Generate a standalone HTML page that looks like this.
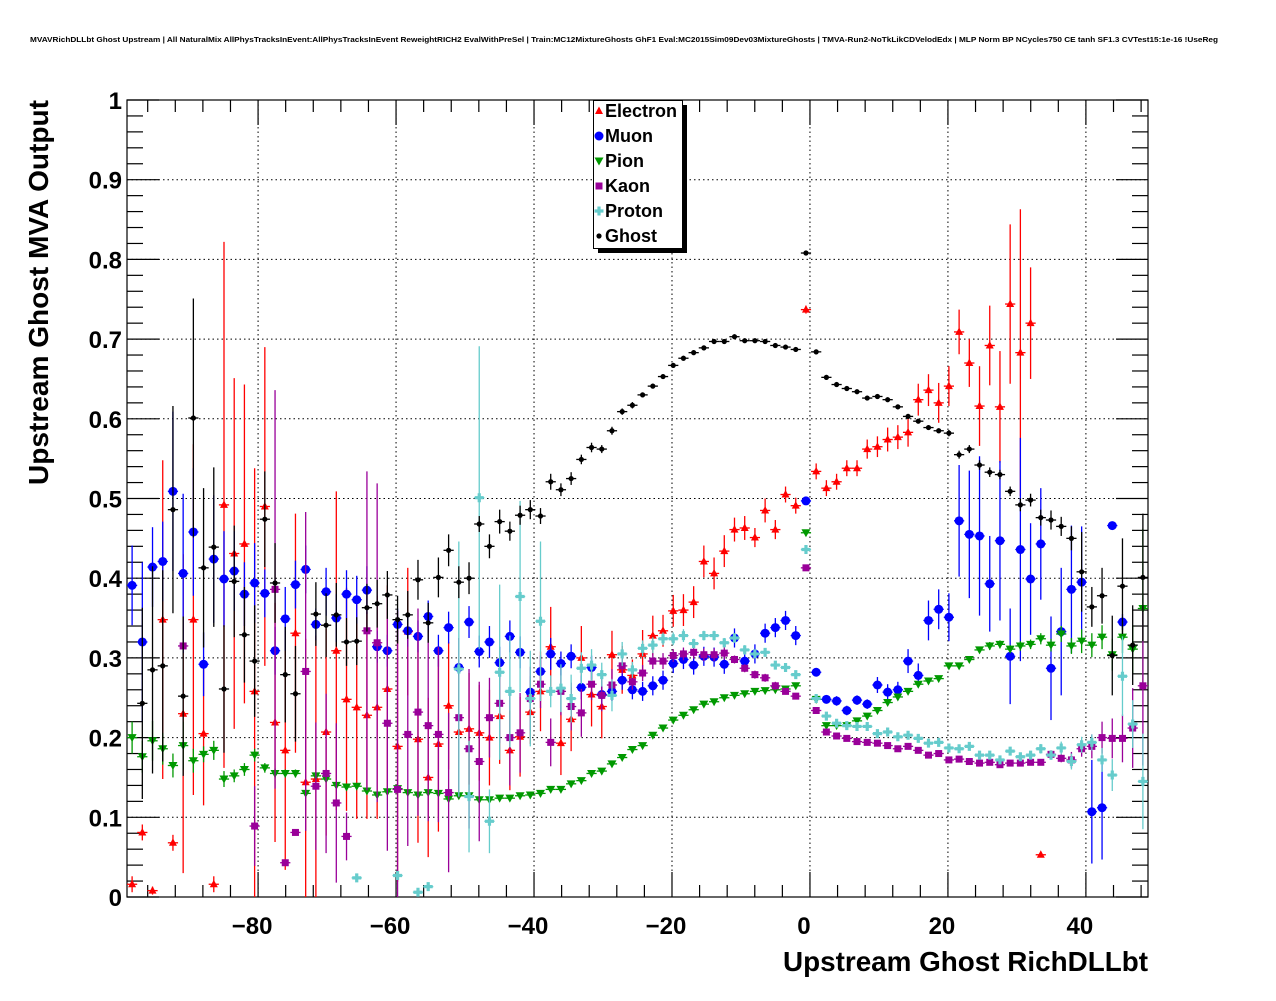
<!DOCTYPE html>
<html><head><meta charset="utf-8"><style>
html,body{margin:0;padding:0;background:#fff;}
svg text{font-family:"Liberation Sans",sans-serif;font-weight:bold;}
</style></head><body>
<svg id="chart" width="1276" height="996" xmlns="http://www.w3.org/2000/svg">
<rect x="0" y="0" width="1276" height="996" fill="#fff"/>
<text x="624" y="42" font-size="7.6" text-anchor="middle" textLength="1188" lengthAdjust="spacingAndGlyphs">MVAVRichDLLbt Ghost Upstream | All NaturalMix AllPhysTracksInEvent:AllPhysTracksInEvent ReweightRICH2 EvalWithPreSel | Train:MC12MixtureGhosts GhF1 Eval:MC2015Sim09Dev03MixtureGhosts | TMVA-Run2-NoTkLikCDVelodEdx | MLP Norm BP NCycles750 CE tanh SF1.3 CVTest15:1e-16 !UseReg</text>
<g id="grid"></g>
<g id="axes"></g>
<g id="marks"></g>
<text x="1148" y="971" font-size="28" text-anchor="end" textLength="365" lengthAdjust="spacingAndGlyphs">Upstream Ghost RichDLLbt</text>
<text transform="translate(48,100) rotate(-90)" font-size="28" text-anchor="end" textLength="385" lengthAdjust="spacingAndGlyphs">Upstream Ghost MVA Output</text>
<g>
<rect x="598" y="105" width="89" height="148" fill="#000"/>
<rect x="593.5" y="100.5" width="89" height="148" fill="#fff" stroke="#000"/>
<g id="legend-items"></g>
</g>
</svg>
<script>
const NB = 100, XMIN = -99, XMAX = 49;
const seriesNames = ["Electron","Muon","Pion","Kaon","Proton","Ghost"];
const seriesColors = ["#ff0000","#0000ff","#009900","#990099","#66cccc","#000000"];
const n = null;
const electron = [0.016,0.081,0.008,0.348,0.068,0.230,0.348,0.205,0.016,0.492,0.431,0.443,0.258,0.490,0.219,0.184,0.331,0.144,0.148,0.207,0.309,0.248,0.238,0.228,0.238,0.261,0.189,0.333,0.198,0.150,0.192,0.240,0.207,0.211,0.206,0.200,0.227,0.184,0.201,0.232,0.258,0.314,0.193,0.223,0.300,0.254,0.239,0.304,0.285,0.278,0.305,0.328,0.334,0.359,0.360,0.370,0.421,0.406,0.434,0.461,0.463,0.451,0.485,0.461,0.505,0.491,0.737,0.534,0.513,0.521,0.538,0.538,0.562,0.565,0.574,0.577,0.583,0.624,0.636,0.620,0.641,0.709,0.670,0.616,0.692,0.615,0.744,0.683,0.720,0.053,n,n,n,n,n,n,n,n,n,n];
const electronErr = [0.01,0.01,0.005,0.2,0.01,0.2,0.22,0.09,0.01,0.33,0.22,0.2,0.28,0.2,0.15,0.15,0.15,0.18,0.18,0.13,0.2,0.14,0.14,0.13,0.14,0.13,0.17,0.08,0.13,0.1,0.11,0.08,0.08,0.07,0.06,0.06,0.06,0.05,0.05,0.04,0.05,0.05,0.04,0.04,0.04,0.04,0.04,0.03,0.03,0.02,0.03,0.025,0.02,0.02,0.02,0.02,0.02,0.02,0.02,0.015,0.015,0.012,0.015,0.012,0.01,0.01,0.005,0.01,0.01,0.01,0.01,0.01,0.012,0.013,0.015,0.015,0.018,0.02,0.02,0.025,0.025,0.028,0.03,0.05,0.05,0.07,0.1,0.18,0.07,0.002,n,n,n,n,n,n,n,n,n,n];
const muon = [0.391,0.320,0.414,0.421,0.509,0.406,0.458,0.292,0.424,0.399,0.409,0.380,0.394,0.381,0.309,0.349,0.392,0.411,0.342,0.383,0.350,0.380,0.373,0.385,0.314,0.309,0.342,0.334,0.327,0.352,0.309,0.338,0.288,0.345,0.308,0.320,0.294,0.327,0.307,0.257,0.283,0.305,0.293,0.302,0.263,0.288,0.254,0.258,0.272,0.260,0.258,0.265,0.272,0.293,0.298,0.291,0.302,0.301,0.292,0.325,0.296,0.305,0.331,0.338,0.347,0.328,0.497,0.282,0.248,0.246,0.234,0.247,0.242,0.266,0.257,0.260,0.296,0.278,0.347,0.361,0.351,0.472,0.455,0.453,0.393,0.447,0.302,0.436,0.399,0.443,0.287,0.333,0.386,0.395,0.107,0.112,0.466,0.345,n,n];
const muonErr = [0.05,0.1,0.05,0.05,0.1,0.1,0.08,0.04,0.08,0.06,0.05,0.04,0.05,0.03,0.03,0.04,0.03,0.03,0.02,0.03,0.03,0.03,0.03,0.03,0.02,0.02,0.02,0.02,0.02,0.02,0.02,0.02,0.01,0.02,0.02,0.02,0.02,0.02,0.02,0.02,0.02,0.02,0.015,0.015,0.015,0.015,0.012,0.012,0.012,0.012,0.012,0.012,0.012,0.012,0.012,0.012,0.012,0.012,0.012,0.012,0.01,0.012,0.012,0.012,0.012,0.012,0.002,0.005,0.005,0.006,0.006,0.006,0.006,0.01,0.01,0.01,0.015,0.015,0.025,0.025,0.03,0.07,0.08,0.1,0.06,0.1,0.06,0.14,0.07,0.07,0.065,0.08,0.08,0.07,0.065,0.065,0.005,0.01,n,n];
const pion = [0.200,0.176,0.196,0.186,0.165,0.190,0.171,0.179,0.184,0.148,0.152,0.160,0.178,0.162,0.155,0.155,0.155,0.130,0.152,0.148,0.140,0.138,0.139,0.133,0.128,0.132,0.136,0.131,0.128,0.131,0.130,0.123,0.127,0.127,0.122,0.122,0.124,0.124,0.127,0.128,0.130,0.135,0.135,0.142,0.146,0.155,0.158,0.167,0.175,0.185,0.190,0.203,0.212,0.222,0.228,0.235,0.242,0.245,0.250,0.253,0.255,0.258,0.259,0.260,0.261,0.265,0.457,0.248,0.215,0.215,0.215,0.221,0.227,0.234,0.244,0.251,0.258,0.267,0.271,0.274,0.290,0.290,0.298,0.310,0.315,0.317,0.311,0.315,0.317,0.324,0.316,0.330,0.315,0.321,0.316,0.326,0.304,0.326,0.311,0.362];
const pionErr = [0.02,0.02,0.025,0.02,0.015,0.03,0.015,0.01,0.012,0.01,0.008,0.008,0.008,0.006,0.006,0.005,0.005,0.006,0.005,0.004,0.004,0.004,0.004,0.003,0.003,0.003,0.003,0.003,0.003,0.003,0.003,0.003,0.003,0.003,0.003,0.003,0.003,0.003,0.003,0.003,0.003,0.003,0.003,0.003,0.003,0.003,0.003,0.003,0.003,0.003,0.003,0.003,0.003,0.003,0.003,0.003,0.003,0.003,0.003,0.003,0.003,0.003,0.003,0.003,0.003,0.003,0.003,0.003,0.003,0.003,0.003,0.003,0.003,0.003,0.003,0.003,0.003,0.003,0.003,0.003,0.003,0.003,0.003,0.003,0.005,0.005,0.005,0.006,0.006,0.007,0.008,0.01,0.01,0.015,0.015,0.015,0.02,0.02,0.03,0.1];
const kaon = [n,n,n,n,n,0.315,n,n,n,n,n,n,0.089,n,0.386,0.043,0.081,0.283,0.139,0.155,0.118,0.076,n,0.334,0.319,0.218,0.135,0.204,0.232,0.215,0.204,0.131,0.225,0.186,0.170,0.225,0.243,0.200,0.206,0.249,0.267,0.194,0.258,0.239,0.231,0.267,0.253,0.266,0.290,0.270,0.281,0.296,0.296,0.303,0.305,0.307,0.304,0.304,0.306,0.298,0.287,0.279,0.275,0.265,0.258,0.252,0.413,0.234,0.207,0.202,0.199,0.195,0.194,0.193,0.190,0.186,0.189,0.184,0.178,0.180,0.172,0.173,0.170,0.168,0.169,0.166,0.168,0.168,0.169,0.169,0.179,0.174,0.172,0.186,0.189,0.200,0.199,0.199,0.212,0.265];
const kaonErr = [n,n,n,n,n,0.003,n,n,n,n,n,n,0.05,n,0.25,0.003,0.003,0.2,0.08,0.1,0.1,0.03,n,0.2,0.2,0.16,0.2,0.14,0.13,0.12,0.11,0.1,0.1,0.1,0.1,0.05,0.05,0.06,0.05,0.04,0.03,0.03,0.03,0.03,0.03,0.02,0.02,0.02,0.01,0.01,0.01,0.01,0.01,0.008,0.008,0.008,0.008,0.008,0.008,0.005,0.005,0.005,0.005,0.005,0.004,0.004,0.003,0.003,0.003,0.003,0.003,0.003,0.003,0.003,0.003,0.003,0.003,0.003,0.003,0.003,0.003,0.003,0.003,0.003,0.003,0.003,0.003,0.003,0.003,0.003,0.005,0.005,0.01,0.01,0.015,0.02,0.025,0.03,0.05,0.1];
const proton = [n,n,n,n,n,n,n,n,n,n,n,n,n,n,n,n,n,n,n,n,n,n,0.024,n,n,n,0.027,n,0.006,0.013,n,n,0.286,0.126,0.501,0.095,0.282,0.258,0.377,0.249,0.346,0.258,0.262,0.249,0.287,0.291,0.279,0.253,0.305,0.285,0.312,0.316,0.324,0.324,0.328,0.318,0.328,0.328,0.319,0.325,0.310,0.305,0.307,0.291,0.288,0.279,0.436,0.249,0.227,0.218,0.215,0.214,0.214,0.205,0.207,0.201,0.203,0.199,0.193,0.194,0.187,0.186,0.189,0.178,0.178,0.172,0.183,0.176,0.178,0.186,0.178,0.187,0.170,0.191,0.194,0.172,0.153,0.277,0.217,0.145];
const protonErr = [n,n,n,n,n,n,n,n,n,n,n,n,n,n,n,n,n,n,n,n,n,n,0.003,n,n,n,0.005,n,0.003,0.003,n,n,0.16,0.07,0.19,0.04,0.11,0.07,0.12,0.06,0.1,0.02,0.03,0.03,0.02,0.02,0.015,0.02,0.015,0.01,0.01,0.01,0.008,0.008,0.008,0.006,0.006,0.006,0.006,0.006,0.006,0.005,0.005,0.005,0.004,0.004,0.003,0.004,0.004,0.004,0.004,0.004,0.004,0.004,0.004,0.004,0.004,0.004,0.004,0.004,0.004,0.004,0.004,0.004,0.004,0.004,0.005,0.005,0.005,0.006,0.006,0.008,0.01,0.01,0.01,0.015,0.02,0.05,0.03,0.06];
const ghost = [n,0.243,0.285,0.290,0.486,0.252,0.601,0.413,0.439,0.261,0.396,0.329,0.296,0.474,0.394,0.279,0.255,n,0.355,0.341,0.354,0.320,0.321,0.363,0.368,0.379,0.348,0.354,0.398,0.344,0.401,0.435,0.395,0.400,0.468,0.440,0.471,0.459,0.479,0.486,0.478,0.521,0.511,0.525,0.549,0.564,0.562,0.585,0.609,0.617,0.630,0.641,0.653,0.667,0.676,0.683,0.689,0.697,0.697,0.703,0.698,0.698,0.697,0.692,0.690,0.687,0.808,0.684,0.652,0.643,0.638,0.634,0.626,0.628,0.624,0.615,0.603,0.597,0.589,0.585,0.582,0.555,0.562,0.542,0.533,0.530,0.509,0.492,0.498,0.476,0.473,0.465,0.450,0.408,0.364,0.378,0.303,0.390,0.316,0.401];
const ghostErr = [n,0.12,0.13,0.12,0.13,0.1,0.15,0.1,0.1,0.08,0.07,0.06,0.07,0.06,0.05,0.06,0.06,n,0.04,0.04,0.04,0.03,0.03,0.03,0.03,0.03,0.03,0.03,0.025,0.025,0.025,0.02,0.02,0.02,0.01,0.015,0.015,0.012,0.012,0.012,0.01,0.01,0.008,0.008,0.006,0.006,0.005,0.005,0.004,0.004,0.003,0.003,0.003,0.003,0.003,0.003,0.003,0.003,0.003,0.003,0.003,0.003,0.003,0.003,0.003,0.003,0.003,0.003,0.003,0.003,0.003,0.003,0.003,0.003,0.003,0.003,0.003,0.003,0.003,0.003,0.004,0.005,0.005,0.006,0.006,0.006,0.006,0.008,0.008,0.01,0.012,0.012,0.015,0.05,0.025,0.035,0.05,0.06,0.05,0.08];
const xTicks = [-80,-60,-40,-20,0,20,40];
const xTickLabels = ["\u221280","\u221260","\u221240","\u221220","0","20","40"];
const yTicks = [0,0.1,0.2,0.3,0.4,0.5,0.6,0.7,0.8,0.9,1];
const yTickLabels = ["0","0.1","0.2","0.3","0.4","0.5","0.6","0.7","0.8","0.9","1"];

const PL=127, PR=1148, PT=100, PB=897;
const NS="http://www.w3.org/2000/svg";
function xs(v){return PL+(v-XMIN)/(XMAX-XMIN)*(PR-PL);}
function ys(v){return PB-v*(PB-PT);}
function mk(tag,attrs,parent){const e=document.createElementNS(NS,tag);for(const k in attrs)e.setAttribute(k,attrs[k]);parent.appendChild(e);return e;}
const grid=document.getElementById('grid'), axes=document.getElementById('axes'), marks=document.getElementById('marks');
const fr=mk('rect',{x:PL,y:PT,width:PR-PL,height:PB-PT,fill:'none',stroke:'#000','stroke-width':1.2},axes);


xTicks.forEach((t,i)=>{
  const x=xs(t);
  const g=mk('line',{x1:x,y1:PT,x2:x,y2:PB,stroke:'#000','stroke-dasharray':'1.5,3','stroke-width':1},grid);
  
  
  const lb=mk('text',{x:x-6,y:934,'font-size':24,'text-anchor':'middle'},axes);
  lb.textContent=xTickLabels[i];
  
  
});
for(let v=-96; v<=48; v+=4){
  const x=xs(v); const major=(v%20===0);
  const l=mk('line',{x1:x,y1:PB,x2:x,y2:PB-(major?25:12),stroke:'#000','stroke-width':1.2},axes);
  
  
  const l2=mk('line',{x1:x,y1:PT,x2:x,y2:PT+(major?25:12),stroke:'#000','stroke-width':1.2},axes);
  
  
}
yTicks.forEach((t,i)=>{
  const y=ys(t);
  const g=mk('line',{x1:PL,y1:y,x2:PR,y2:y,stroke:'#000','stroke-dasharray':'1.5,3','stroke-width':1},grid);
  
  
  const lb=mk('text',{x:122,y:y+9,'font-size':24,'text-anchor':'end'},axes);
  lb.textContent=yTickLabels[i];
  
  
});
for(let k=0;k<=50;k++){
  const y=ys(k*0.02); const major=(k%5===0);
  const l=mk('line',{x1:PL,y1:y,x2:PL+(major?32:16),y2:y,stroke:'#000','stroke-width':1.2},axes);
  
  
  const l2=mk('line',{x1:PR,y1:y,x2:PR-(major?32:16),y2:y,stroke:'#000','stroke-width':1.2},axes);
  
  
}
function marker(type,cx,cy,col,parent){
  let e;
  if(type==='tri-up') e=mk('polygon',{points:`${cx},${cy-4.5} ${cx-4},${cy+3} ${cx+4},${cy+3}`,fill:col},parent);
  else if(type==='circle') e=mk('circle',{cx:cx,cy:cy,r:4.5,fill:col},parent);
  else if(type==='tri-down') e=mk('polygon',{points:`${cx},${cy+4.5} ${cx-4.5},${cy-3.5} ${cx+4.5},${cy-3.5}`,fill:col},parent);
  else if(type==='square') e=mk('rect',{x:cx-3.5,y:cy-3.5,width:7,height:7,fill:col},parent);
  else if(type==='cross') e=mk('path',{d:`M${cx-1.6},${cy-4.5}h3.2v2.9h2.9v3.2h-2.9v2.9h-3.2v-2.9h-2.9v-3.2h2.9z`,fill:col},parent);
  else e=mk('circle',{cx:cx,cy:cy,r:2.6,fill:col},parent);
  return e;
}
const data=[electron,muon,pion,kaon,proton,ghost];
const errs=[electronErr,muonErr,pionErr,kaonErr,protonErr,ghostErr];
const types=['tri-up','circle','tri-down','square','cross','dot'];
const keys=['electron','muon','pion','kaon','proton','ghost'];
const bw=(XMAX-XMIN)/NB;
data.forEach((arr,s)=>{
  const g=mk('g',{},marks);
  
  
  arr.forEach((v,i)=>{
    if(v===null) return;
    const xc=XMIN+(i+0.5)*bw;
    const cx=xs(xc), cy=ys(v);
    const e=errs[s][i]||0;
    const col=seriesColors[s];
    const hb=mk('line',{x1:xs(xc-bw/2),y1:cy,x2:xs(xc+bw/2),y2:cy,stroke:col,'stroke-width':1.3},g);
    
    
    if(e>0){
      const vb=mk('line',{x1:cx,y1:ys(Math.min(1,v+e)),x2:cx,y2:ys(Math.max(0,v-e)),stroke:col,'stroke-width':1.3},g);
      
      
    }
    const m=marker(types[s],cx,cy,col,g);
    
    
  });
});
const li=document.getElementById('legend-items');
seriesNames.forEach((nm,s)=>{
  const y=111+s*25;
  const m=marker(types[s],599,y,seriesColors[s],li);
  
  
  const t=mk('text',{x:605,y:y+6,'font-size':18},li);
  t.textContent=nm;
  
  
});
</script>
</body></html>
